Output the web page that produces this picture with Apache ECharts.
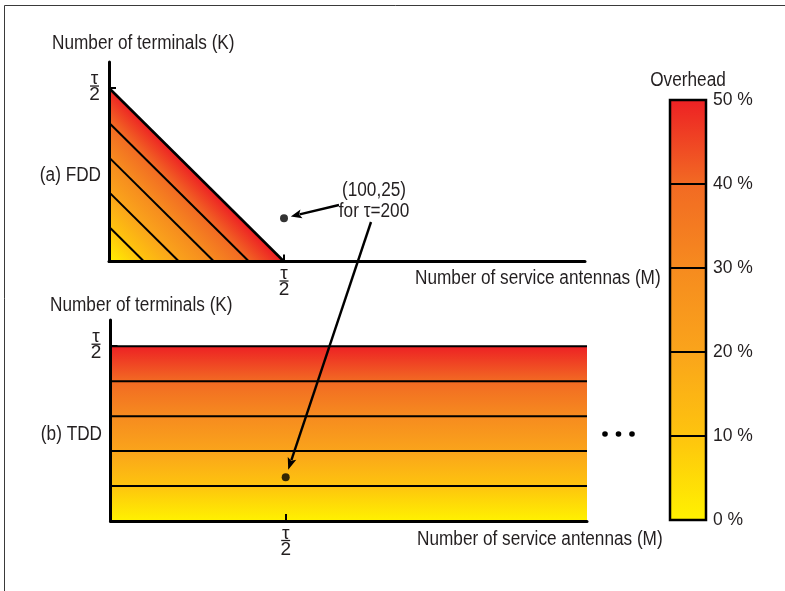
<!DOCTYPE html>
<html><head><meta charset="utf-8">
<script src="https://cdn.jsdelivr.net/npm/echarts@6/dist/echarts.min.js"></script>
<style>html,body{margin:0;padding:0;background:#fff}#c{width:785px;height:591px}</style>
</head><body><div id="c"></div>
<script>
// ---- data ----
const tau = 200;
const halfTau = tau / 2;                 // τ/2
const mAxisMax = 272;                    // extent of M axis drawn
const kAxisMax = 115;                    // extent of K axis drawn
const overheadTicks = [0, 10, 20, 30, 40, 50];   // %
const fddContours = [20, 40, 60, 80, 100];       // M+K for 10..50 % overhead
const tddContours = [20, 40, 60, 80, 100];       // K for 10..50 % overhead
const examplePoint = [100, 25];                  // (M,K) for τ=200
const tickLabelsK = [halfTau];
const tickLabelsM = [halfTau];
const overheadColors = ['#FFF200', '#FEC40E', '#FAA41B', '#F68B1F', '#F26A23', '#ED2124'];

// ---- style ----
const FONT = '"Liberation Sans",Arial,sans-serif';
const TXT = '#231F20';
const SX = 0.86;   // condensed look
const stops = overheadColors.map((c, i) => ({ offset: i / (overheadColors.length - 1), color: c }));

const fracRich = {
  t: { fontSize: 19, lineHeight: 11, width: 11, align: 'center', fontFamily: FONT, color: TXT },
  l: { width: 9, height: 1.3, lineHeight: 3, backgroundColor: TXT, fontSize: 1, align: 'center' },
  d: { fontSize: 19, lineHeight: 15, width: 11, align: 'center', fontFamily: FONT, color: TXT }
};
const frac = () => '{t|τ}\n{l| }\n{d|2}';

function valAxis(grid, max, ticks, margin) {
  return {
    gridIndex: grid, type: 'value', min: 0, max: max, z: 5,
    axisLine: { show: true, onZero: false, lineStyle: { color: '#000', width: 3 } },
    splitLine: { show: false },
    axisTick: { show: true, inside: true, length: 7, customValues: ticks, lineStyle: { color: '#000', width: 2 } },
    axisLabel: { customValues: ticks, formatter: frac, rich: fracRich, margin: margin }
  };
}

const chart = echarts.init(document.getElementById('c'));

const option = {
  animation: false,
  backgroundColor: '#fff',
  grid: [
    { left: 109, top: 62, width: 476, height: 199.5 },
    { left: 110.5, top: 320, width: 476.5, height: 201 },
    { left: 670, top: 100, width: 36, height: 420 }
  ],
  xAxis: [
    valAxis(0, mAxisMax, tickLabelsM, 7),
    valAxis(1, mAxisMax, tickLabelsM, 7),
    { gridIndex: 2, type: 'value', min: 0, max: 1, show: false }
  ],
  yAxis: [
    valAxis(0, kAxisMax, tickLabelsK, 9),
    valAxis(1, kAxisMax, tickLabelsK, 9),
    {
      gridIndex: 2, type: 'value', min: 0, max: 50, interval: 10, position: 'right',
      axisLine: { show: false }, axisTick: { show: false }, splitLine: { show: false },
      axisLabel: { formatter: '{value} %', margin: 7, fontSize: 17.5, color: TXT, fontFamily: FONT, showMinLabel: true, showMaxLabel: true }
    }
  ],
  series: [
    {
      type: 'custom', xAxisIndex: 0, yAxisIndex: 0, z: 2, silent: true,
      data: [[0, 0]],
      renderItem: (params, api) => {
        const o = api.coord([0, 0]);
        const top = api.coord([0, halfTau]);
        const right = api.coord([halfTau, 0]);
        const g = api.coord([halfTau / 2, halfTau / 2]);
        const children = [{
          type: 'polygon', shape: { points: [o, top, right] },
          style: { fill: new echarts.graphic.LinearGradient(o[0], o[1], g[0], g[1], stops, true) }
        }];
        fddContours.forEach((c, i) => {
          const a = api.coord([0, c]), b = api.coord([c, 0]);
          children.push({ type: 'line', shape: { x1: a[0], y1: a[1], x2: b[0], y2: b[1] },
            style: { stroke: '#000', lineWidth: i === fddContours.length - 1 ? 2.6 : 2 } });
        });
        return { type: 'group', children };
      }
    },
    {
      type: 'scatter', xAxisIndex: 0, yAxisIndex: 0, z: 10, silent: true,
      data: [examplePoint], symbolSize: 8, itemStyle: { color: '#000' }
    },
    {
      type: 'custom', xAxisIndex: 1, yAxisIndex: 1, z: 2, silent: true,
      data: [[0, 0]],
      renderItem: (params, api) => {
        const o = api.coord([0, 0]);
        const tl = api.coord([0, halfTau]);
        const br = api.coord([mAxisMax, 0]);
        const children = [{
          type: 'rect', shape: { x: o[0], y: tl[1], width: br[0] - o[0], height: o[1] - tl[1] },
          style: { fill: new echarts.graphic.LinearGradient(o[0], o[1], tl[0], tl[1], stops, true) }
        }];
        tddContours.forEach((k) => {
          const a = api.coord([0, k]), b = api.coord([mAxisMax, k]);
          children.push({ type: 'line', shape: { x1: a[0], y1: a[1], x2: b[0], y2: b[1] },
            style: { stroke: '#000', lineWidth: 2 } });
        });
        return { type: 'group', children };
      }
    },
    {
      type: 'scatter', xAxisIndex: 1, yAxisIndex: 1, z: 10, silent: true,
      data: [examplePoint], symbolSize: 8, itemStyle: { color: '#000' }
    },
    {
      type: 'custom', xAxisIndex: 2, yAxisIndex: 2, z: 2, silent: true,
      data: [[0, 0]],
      renderItem: (params, api) => {
        const lo = overheadTicks[0], hi = overheadTicks[overheadTicks.length - 1];
        const bl = api.coord([0, lo]);
        const tr = api.coord([1, hi]);
        const children = [{
          type: 'rect', shape: { x: bl[0], y: tr[1], width: tr[0] - bl[0], height: bl[1] - tr[1] },
          style: { fill: new echarts.graphic.LinearGradient(bl[0], bl[1], bl[0], tr[1], stops, true) }
        }];
        overheadTicks.slice(1, -1).forEach((v) => {
          const a = api.coord([0, v]), b = api.coord([1, v]);
          children.push({ type: 'line', shape: { x1: a[0], y1: a[1], x2: b[0], y2: b[1] },
            style: { stroke: '#000', lineWidth: 2 } });
        });
        children.push({
          type: 'rect', shape: { x: bl[0], y: tr[1], width: tr[0] - bl[0], height: bl[1] - tr[1] },
          style: { fill: null, stroke: '#000', lineWidth: 2.5 }
        });
        return { type: 'group', children };
      }
    }
  ]
};
chart.setOption(option);

// ---- annotations ----
function txt(text, x, y, align, size) {
  return { type: 'text', z: 20, silent: true, x: x, y: y, scaleX: SX,
    style: { text, x: 0, y: 0, fill: TXT, fontSize: size || 20, fontFamily: FONT, textAlign: align || 'left', textVerticalAlign: 'middle' } };
}
function dot(x, y) {
  return { type: 'circle', z: 20, silent: true, shape: { cx: x, cy: y, r: 2.8 }, style: { fill: '#000' } };
}
function arrow(from, to, gap, headLen, headW) {
  const dx = to[0] - from[0], dy = to[1] - from[1];
  const L = Math.hypot(dx, dy), ux = dx / L, uy = dy / L;
  const tip = [to[0] - ux * gap, to[1] - uy * gap];
  const base = [tip[0] - ux * headLen, tip[1] - uy * headLen];
  const nx = -uy, ny = ux;
  return [
    { type: 'line', z: 20, silent: true, shape: { x1: from[0], y1: from[1], x2: base[0] + ux * 2, y2: base[1] + uy * 2 },
      style: { stroke: '#000', lineWidth: 2.4 } },
    { type: 'polygon', z: 20, silent: true,
      shape: { points: [tip, [base[0] + nx * headW, base[1] + ny * headW], [base[0] + ux * 2.5, base[1] + uy * 2.5], [base[0] - nx * headW, base[1] - ny * headW]] },
      style: { fill: '#000' } }
  ];
}
const p1 = chart.convertToPixel({ gridIndex: 0 }, examplePoint);
const p2 = chart.convertToPixel({ gridIndex: 1 }, examplePoint);

const graphics = [
  { type: 'rect', z: 0, silent: true, shape: { x: 4.5, y: 5.5, width: 900, height: 900 }, style: { fill: null, stroke: '#3a3a3a', lineWidth: 1 } },
  txt('Number of terminals (K)', 52, 43),
  txt('Number of terminals (K)', 50, 305),
  txt('Number of service antennas (M)', 415, 278),
  txt('Number of service antennas (M)', 417, 539),
  txt('(a) FDD', 101, 175, 'right'),
  txt('(b) TDD', 102, 434, 'right'),
  txt('(' + examplePoint[0] + ',' + examplePoint[1] + ')', 374, 190, 'center'),
  txt('for τ=' + tau, 374, 211, 'center'),
  txt('Overhead', 688, 80, 'center'),
  dot(605, 434), dot(618.5, 434), dot(632, 434)
].concat(arrow([339, 205], p1, 7, 11, 4.5), arrow([371, 222], p2, 8, 12, 4.5));

chart.setOption({ graphic: graphics });
</script>
</body></html>
